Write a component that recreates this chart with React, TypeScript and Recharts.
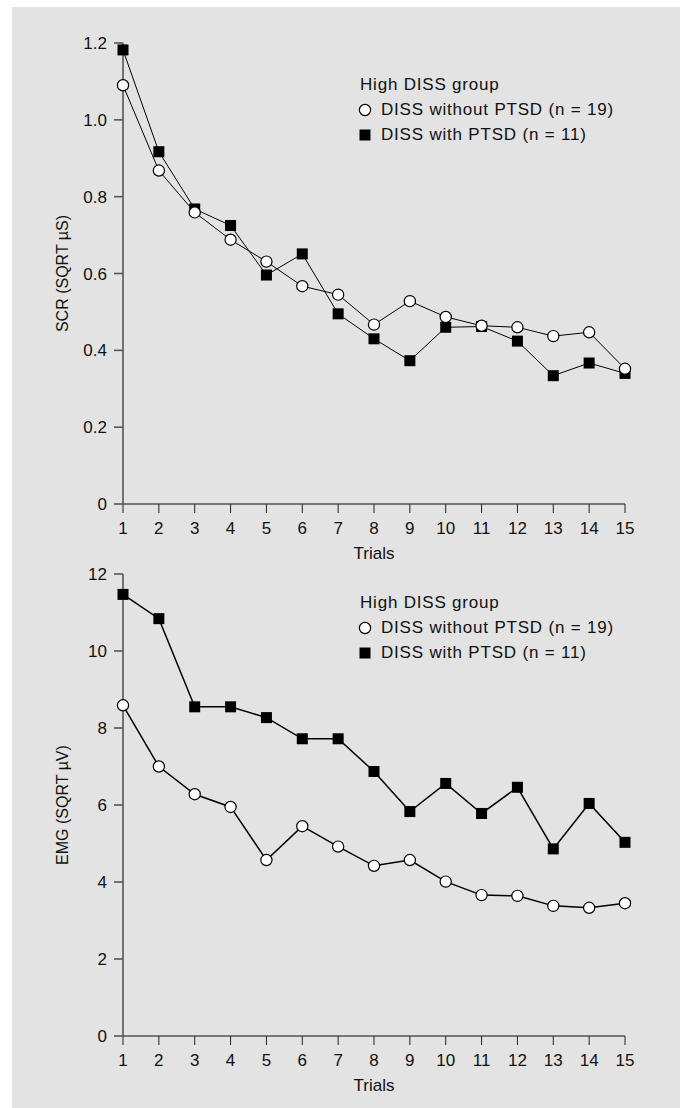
import React from "react"
import { LineChart, Line, XAxis, YAxis, Legend, Label } from "recharts"

const trials = [1, 2, 3, 4, 5, 6, 7, 8, 9, 10, 11, 12, 13, 14, 15]

const scrWithout = [1.09, 0.868, 0.759, 0.688, 0.631, 0.567, 0.545, 0.467, 0.528, 0.487, 0.464, 0.46, 0.437, 0.447, 0.352]
const scrWith = [1.182, 0.917, 0.768, 0.725, 0.596, 0.651, 0.495, 0.43, 0.373, 0.46, 0.462, 0.424, 0.334, 0.367, 0.34]
const scrTicks = [0, 0.2, 0.4, 0.6, 0.8, 1.0, 1.2]

const emgWithout = [8.59, 7.0, 6.28, 5.95, 4.57, 5.45, 4.92, 4.42, 4.57, 4.01, 3.66, 3.64, 3.38, 3.33, 3.45]
const emgWith = [11.47, 10.84, 8.55, 8.55, 8.27, 7.72, 7.72, 6.87, 5.83, 6.56, 5.78, 6.46, 4.86, 6.04, 5.03]
const emgTicks = [0, 2, 4, 6, 8, 10, 12]

const legendTitle = "High DISS group"
const nameWithout = "DISS without PTSD (n = 19)"
const nameWith = "DISS with PTSD (n = 11)"

const FONT = "'Liberation Sans', Arial, sans-serif"
const INK = "#111"

const CircleDot = (props: any) => {
  const { cx, cy, index } = props
  if (cx == null || cy == null) return null
  return <circle key={`c-${index}`} cx={cx} cy={cy} r={5.6} fill="#fff" stroke="#000" strokeWidth={1.2} />
}

const SquareDot = (props: any) => {
  const { cx, cy, index } = props
  if (cx == null || cy == null) return null
  return <rect key={`s-${index}`} x={cx - 5.5} y={cy - 5.5} width={11} height={11} fill="#000" />
}

function LegendBox({ payload }: any) {
  const items = [...(payload || [])].sort((a: any) => (a.dataKey === "without" ? -1 : 1))
  return (
    <div style={{ fontFamily: FONT, fontSize: 17, letterSpacing: 0.8, color: INK, textAlign: "left" }}>
      <div style={{ height: 25, lineHeight: "25px" }}>{legendTitle}</div>
      {items.map((it: any) => (
        <div key={it.dataKey} style={{ height: 25, lineHeight: "25px", display: "flex", alignItems: "center" }}>
          <svg width={14} height={14} style={{ marginRight: 9, marginLeft: -2 }}>
            {it.dataKey === "without" ? (
              <circle cx={7} cy={7} r={5.6} fill="#fff" stroke="#000" strokeWidth={1.2} />
            ) : (
              <rect x={1.5} y={1.5} width={11} height={11} fill="#000" />
            )}
          </svg>
          <span>{it.value}</span>
        </div>
      ))}
    </div>
  )
}

function Panel({ without, withP, ticks, max, yLabel, fmt, legendTop, height, marginTop, marginBottom, lineWidth }: any) {
  const data = trials.map((t, i) => ({ trial: t, without: without[i], with: withP[i] }))
  return (
    <LineChart width={680} height={height} data={data} margin={{ top: marginTop, right: 55, bottom: marginBottom, left: 63 }}>
      <XAxis
        dataKey="trial"
        type="number"
        domain={[1, 15]}
        ticks={trials}
        interval={0}
        height={50}
        tickSize={9}
        tickMargin={9}
        axisLine={{ stroke: "#555", strokeWidth: 1.6 }}
        tickLine={{ stroke: "#222", strokeWidth: 1 }}
        tick={{ fontSize: 17, fill: INK, fontFamily: FONT }}
      >
        <Label
          content={({ viewBox }: any) => (
            <text x={viewBox.x + viewBox.width / 2} y={viewBox.y + 55} textAnchor="middle" fontSize={17} fill={INK} fontFamily={FONT}>
              Trials
            </text>
          )}
        />
      </XAxis>
      <YAxis
        type="number"
        domain={[0, max]}
        ticks={ticks}
        width={60}
        tickSize={9}
        tickMargin={7}
        tickFormatter={fmt}
        axisLine={{ stroke: "#555", strokeWidth: 1.6 }}
        tickLine={{ stroke: "#555", strokeWidth: 1.6 }}
        tick={{ fontSize: 17, fill: INK, fontFamily: FONT }}
      >
        <Label
          content={({ viewBox }: any) => {
            const cx = viewBox.x - 1
            const cy = viewBox.y + viewBox.height / 2
            return (
              <text x={cx} y={cy} transform={`rotate(-90, ${cx}, ${cy})`} textAnchor="middle" dominantBaseline="central" fontSize={16} fill={INK} fontFamily={FONT}>
                {yLabel}
              </text>
            )
          }}
        />
      </YAxis>
      <Legend
        layout="horizontal"
        verticalAlign="middle"
        align="center"
        content={<LegendBox />}
        wrapperStyle={{ position: "absolute", top: legendTop, left: 360, width: 300 }}
      />
      <Line dataKey="with" name={nameWith} stroke="#000" strokeWidth={lineWidth} dot={SquareDot} activeDot={false} isAnimationActive={false} />
      <Line dataKey="without" name={nameWithout} stroke="#000" strokeWidth={lineWidth} dot={CircleDot} activeDot={false} isAnimationActive={false} />
    </LineChart>
  )
}

export default function App() {
  return (
    <div style={{ position: "relative", width: 680, height: 1108, overflow: "hidden", background: "#fff" }}>
      <style>{`body{margin:0}`}</style>
      <div style={{ position: "absolute", left: 12, top: 7, width: 668, height: 1101, background: "#e3e3e3" }} />
      <div style={{ position: "absolute", left: 0, top: 0 }}>
        <Panel
          without={scrWithout}
          withP={scrWith}
          ticks={scrTicks}
          max={1.2}
          yLabel="SCR (SQRT µS)"
          fmt={(v: number) => (v === 0 ? "0" : v.toFixed(1))}
          legendTop={72}
          height={580}
          marginTop={43}
          marginBottom={26}
          lineWidth={1}
        />
      </div>
      <div style={{ position: "absolute", left: 0, top: 532 }}>
        <Panel
          without={emgWithout}
          withP={emgWith}
          ticks={emgTicks}
          max={12}
          yLabel="EMG (SQRT µV)"
          fmt={(v: number) => String(v)}
          legendTop={58}
          height={570}
          marginTop={42}
          marginBottom={16}
          lineWidth={1.5}
        />
      </div>
    </div>
  )
}
